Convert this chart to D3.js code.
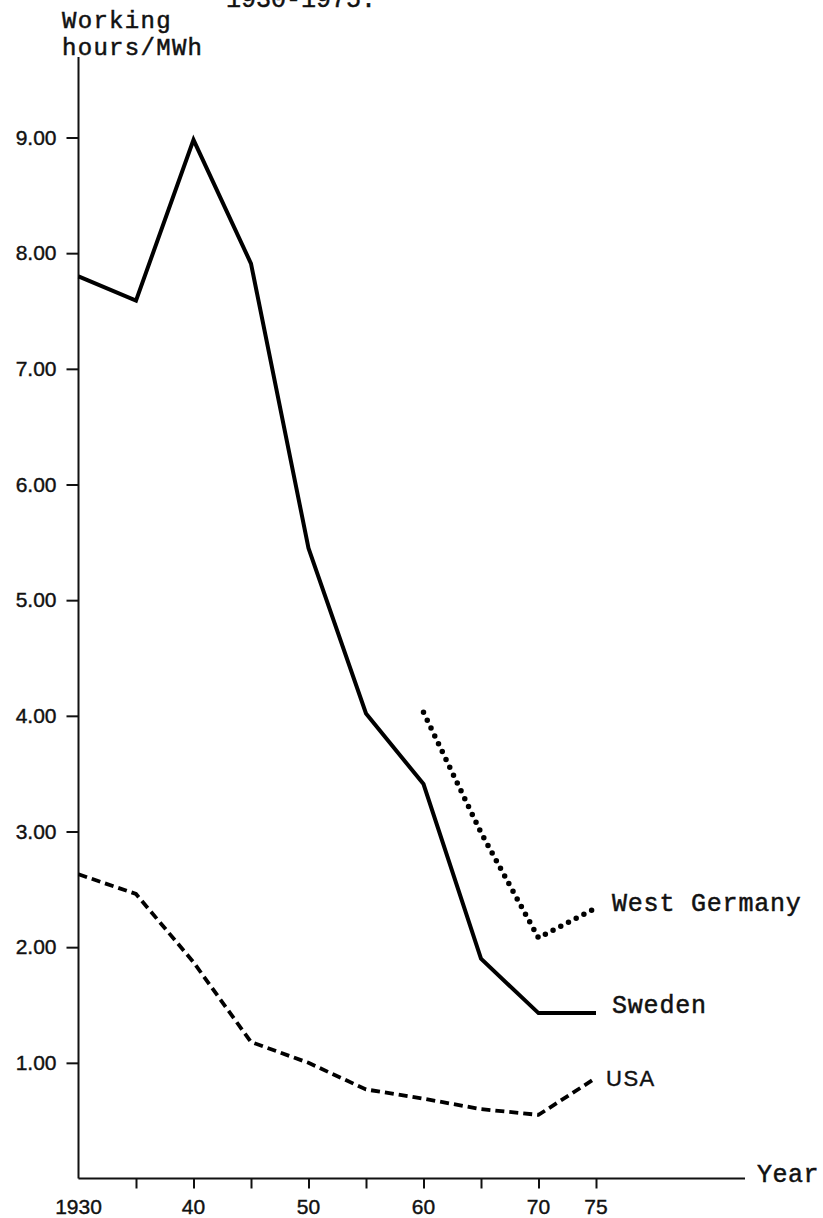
<!DOCTYPE html>
<html>
<head>
<meta charset="utf-8">
<script src="https://cdn.jsdelivr.net/npm/d3@7"></script>
<style>
  html, body { margin: 0; padding: 0; background: #fff; }
  svg { display: block; }
  .mono { font-family: "Liberation Mono", "Courier New", monospace; fill: #111; stroke: #111; stroke-width: 0.5px; }
  .sans { font-family: "Liberation Sans", Arial, sans-serif; fill: #111; stroke: #111; stroke-width: 0.4px; }
</style>
</head>
<body>
<svg id="chart" width="823" height="1218"></svg>
<script>
// ---- data ----
const years = [1930, 1935, 1940, 1945, 1950, 1955, 1960, 1965, 1970, 1975];
const sweden = [7.80, 7.59, 8.98, 7.91, 5.45, 4.02, 3.41, 1.90, 1.43, 1.43];
const usa = [2.63, 2.46, 1.87, 1.18, 1.00, 0.77, 0.69, 0.60, 0.55, 0.87];
const germanyYears = [1960, 1965, 1970, 1975];
const germany = [4.03, 2.99, 2.08, 2.34];
const yTicks = [1, 2, 3, 4, 5, 6, 7, 8, 9];
const xTicks = [1935, 1940, 1945, 1950, 1955, 1960, 1965, 1970, 1975];
const xLabels = [[1930, "1930"], [1940, "40"], [1950, "50"], [1960, "60"], [1970, "70"], [1975, "75"]];

const svg = d3.select("#chart");
const x = d3.scaleLinear().domain([1930, 1975]).range([78.5, 596]);
const y = d3.scaleLinear().domain([0, 9]).range([1178.5, 137.5]);

// axes lines
svg.append("line").attr("x1", x(1930)).attr("x2", x(1930)).attr("y1", 57).attr("y2", y(0))
  .attr("stroke", "#111").attr("stroke-width", 2);
svg.append("line").attr("x1", x(1930)).attr("x2", 745).attr("y1", y(0)).attr("y2", y(0))
  .attr("stroke", "#111").attr("stroke-width", 2);

// y ticks
const yAxis = d3.axisLeft(y).tickValues(yTicks).tickSize(12).tickPadding(10).tickFormat(d3.format(".2f"));
const yg = svg.append("g").attr("transform", `translate(${x(1930)},0)`).call(yAxis);
yg.select(".domain").remove();
yg.selectAll("line").attr("stroke", "#111").attr("stroke-width", 2);
yg.selectAll("text").attr("class", "sans").attr("font-size", 21);

// x ticks
const xAxis = d3.axisBottom(x).tickValues(xTicks).tickSize(10).tickFormat("");
const xg = svg.append("g").attr("transform", `translate(0,${y(0)})`).call(xAxis);
xg.select(".domain").remove();
xg.selectAll("line").attr("stroke", "#111").attr("stroke-width", 2);
svg.append("g").selectAll("text").data(xLabels).join("text")
  .attr("class", "sans").attr("x", d => x(d[0])).attr("y", 1214)
  .attr("text-anchor", "middle").attr("font-size", 21).text(d => d[1]);

// lines
const line = d3.line().x(d => x(d[0])).y(d => y(d[1]));
svg.append("path").datum(years.map((yr, i) => [yr, sweden[i]]))
  .attr("d", line).attr("fill", "none").attr("stroke", "#000").attr("stroke-width", 4)
  .attr("stroke-linejoin", "miter");
svg.append("path").datum(years.map((yr, i) => [yr, usa[i]]))
  .attr("d", line).attr("fill", "none").attr("stroke", "#000").attr("stroke-width", 3.8)
  .attr("stroke-dasharray", "9,5");
svg.append("path").datum(germanyYears.map((yr, i) => [yr, germany[i]]))
  .attr("d", line).attr("fill", "none").attr("stroke", "#000").attr("stroke-width", 5.5)
  .attr("stroke-linecap", "round").attr("stroke-dasharray", "0,8.7");

// text
svg.append("text").attr("class", "mono").attr("x", 226).attr("y", 7).attr("font-size", 25).text("1930-1975.");
svg.append("text").attr("class", "mono").attr("x", 62).attr("y", 28).attr("font-size", 24).attr("letter-spacing", 1.3).text("Working");
svg.append("text").attr("class", "mono").attr("x", 62).attr("y", 55).attr("font-size", 24).attr("letter-spacing", 1.3).text("hours/MWh");
svg.append("text").attr("class", "mono").attr("x", 612).attr("y", 911).attr("font-size", 25).attr("letter-spacing", 0.8).text("West Germany");
svg.append("text").attr("class", "mono").attr("x", 612).attr("y", 1013).attr("font-size", 25).attr("letter-spacing", 0.8).text("Sweden");
svg.append("text").attr("class", "mono").attr("x", 757).attr("y", 1182).attr("font-size", 25).attr("letter-spacing", 0.5).text("Year");
svg.append("text").attr("class", "sans").attr("x", 606).attr("y", 1086).attr("font-size", 22).attr("letter-spacing", 1.5).text("USA");
</script>
</body>
</html>
